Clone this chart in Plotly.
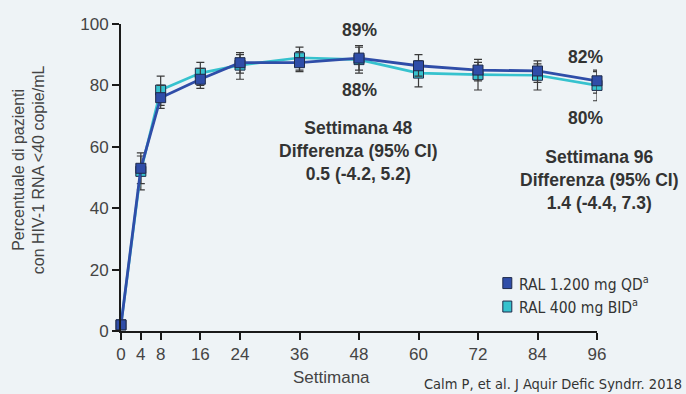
import plotly.graph_objects as go

# Study weeks and virologic response (% of patients with HIV-1 RNA <40 copies/mL)
weeks = [0, 4, 8, 16, 24, 36, 48, 60, 72, 84, 96]
tick_labels = ["0", "4", "8", "16", "24", "36", "48", "60", "72", "84", "96"]

qd_name = "RAL 1.200 mg QD<sup>a</sup>"
qd_pct = [2, 53, 76, 82, 87.4, 87.4, 88.9, 86.4, 85, 84.7, 81.5]
qd_ci_low = [2, 48, 72.5, 79, 84, 84.5, 85, 83, 81.5, 81, 77.5]
qd_ci_high = [2, 58, 80, 85.5, 90.7, 91, 92.5, 90, 88.5, 88, 85]

bid_name = "RAL 400 mg BID<sup>a</sup>"
bid_pct = [2, 52, 78.5, 84, 86.6, 89, 88.4, 84, 83.5, 83.3, 80]
bid_ci_low = [2, 46, 73.5, 80, 82, 85, 84, 79.5, 78.5, 78.5, 75]
bid_ci_high = [2, 57, 83, 87.5, 90, 92.5, 93, 88, 87.5, 87, 84.5]

BLUE = "#2F4DA8"
CYAN = "#36C2CE"
INK = "#333333"
BG = "#EEF3F6"

# plot-area geometry in pixels (used to place paper-referenced notes)
X0, X1, Y0, Y1 = 120.7, 597.3, 331.5, 24.0


def px(x):
    return (x - X0) / (X1 - X0)


def py(y):
    return (Y0 - y) / (Y0 - Y1)


def series(name, x, y, lo, hi, color, width):
    return go.Scatter(
        x=x, y=y, name=name, mode="lines+markers",
        line=dict(color=color, width=width),
        marker=dict(symbol="square", size=10, color=color,
                    line=dict(color="#1E2A4A", width=1)),
        error_y=dict(type="data", symmetric=False,
                     array=[h - v for h, v in zip(hi, y)],
                     arrayminus=[v - l for v, l in zip(y, lo)],
                     color="#3A3A3A", thickness=1.2, width=4),
        cliponaxis=False, showlegend=False,
    )


fig = go.Figure()
fig.add_trace(series(bid_name, weeks, bid_pct, bid_ci_low, bid_ci_high, CYAN, 2.6))
fig.add_trace(series(qd_name, weeks, qd_pct, qd_ci_low, qd_ci_high, BLUE, 2.8))

bold = dict(family="Liberation Sans, Arial", size=17.5, color=INK)
notes = [
    (359, 30, "<b>89%</b>"),
    (359, 90, "<b>88%</b>"),
    (586, 57, "<b>82%</b>"),
    (586, 118, "<b>80%</b>"),
    (358, 151, "<b>Settimana 48<br>Differenza (95% CI)<br>0.5 (-4.2, 5.2)</b>"),
    (600, 180, "<b>Settimana 96<br>Differenza (95% CI)<br>1.4 (-4.4, 7.3)</b>"),
]
for x, y, t in notes:
    fig.add_annotation(x=px(x), y=py(y), text=t, showarrow=False, font=bold,
                       xref="paper", yref="paper", xanchor="center",
                       yanchor="middle", align="center")

# Legend drawn as colour keys with labels
narrow = dict(family="DejaVu Sans Condensed, Liberation Sans, Arial",
              size=15.5, color=INK)
for i, (name, color) in enumerate([(qd_name, BLUE), (bid_name, CYAN)]):
    yc = 283.5 + 23.5 * i
    fig.add_shape(type="rect", xref="paper", yref="paper",
                  x0=px(503), x1=px(512), y0=py(yc + 5.5), y1=py(yc - 5.5),
                  fillcolor=color, line=dict(color="#1E2A4A", width=1))
    fig.add_annotation(xref="paper", yref="paper", x=px(517), y=py(yc),
                       xanchor="left", yanchor="middle", showarrow=False,
                       text=name, font=narrow)

axis_font = dict(family="Liberation Sans, Arial", size=17, color="#444444")
fig.add_annotation(xref="paper", yref="paper", x=px(28), y=py(170),
                   xanchor="center", yanchor="middle", textangle=-90,
                   showarrow=False,
                   text="Percentuale di pazienti<br>con HIV-1 RNA <40 copie/mL",
                   font=dict(family="Liberation Sans, Arial", size=16, color="#444444"))
fig.add_annotation(xref="paper", yref="paper", x=px(331), y=py(378),
                   xanchor="center", yanchor="middle", showarrow=False,
                   text="Settimana", font=axis_font)
fig.add_annotation(xref="paper", yref="paper", x=px(684), y=py(385),
                   xanchor="right", yanchor="middle", showarrow=False,
                   text="Calm P, et al. J Aquir Defic Syndrr. 2018",
                   font=dict(family="DejaVu Sans Condensed, Liberation Sans, Arial",
                             size=14.5, color=INK))

fig.update_xaxes(range=[0, 96], tickvals=weeks, ticktext=tick_labels,
                 showgrid=False, zeroline=False, showline=True,
                 linecolor="#1A1A1A", linewidth=2, ticks="outside",
                 ticklen=7, tickwidth=1.5, tickcolor="#1A1A1A",
                 tickfont=axis_font)
fig.update_yaxes(range=[0, 100], tickvals=[0, 20, 40, 60, 80, 100],
                 showgrid=False, zeroline=False, showline=True,
                 linecolor="#1A1A1A", linewidth=2, ticks="outside",
                 ticklen=7, tickwidth=1.5, tickcolor="#1A1A1A",
                 tickfont=axis_font)

fig.update_layout(
    width=686, height=394,
    margin=dict(l=X0, r=686 - X1, t=Y1, b=394 - Y0),
    paper_bgcolor=BG, plot_bgcolor=BG,
    showlegend=False,
)

fig.write_html("out.html")
